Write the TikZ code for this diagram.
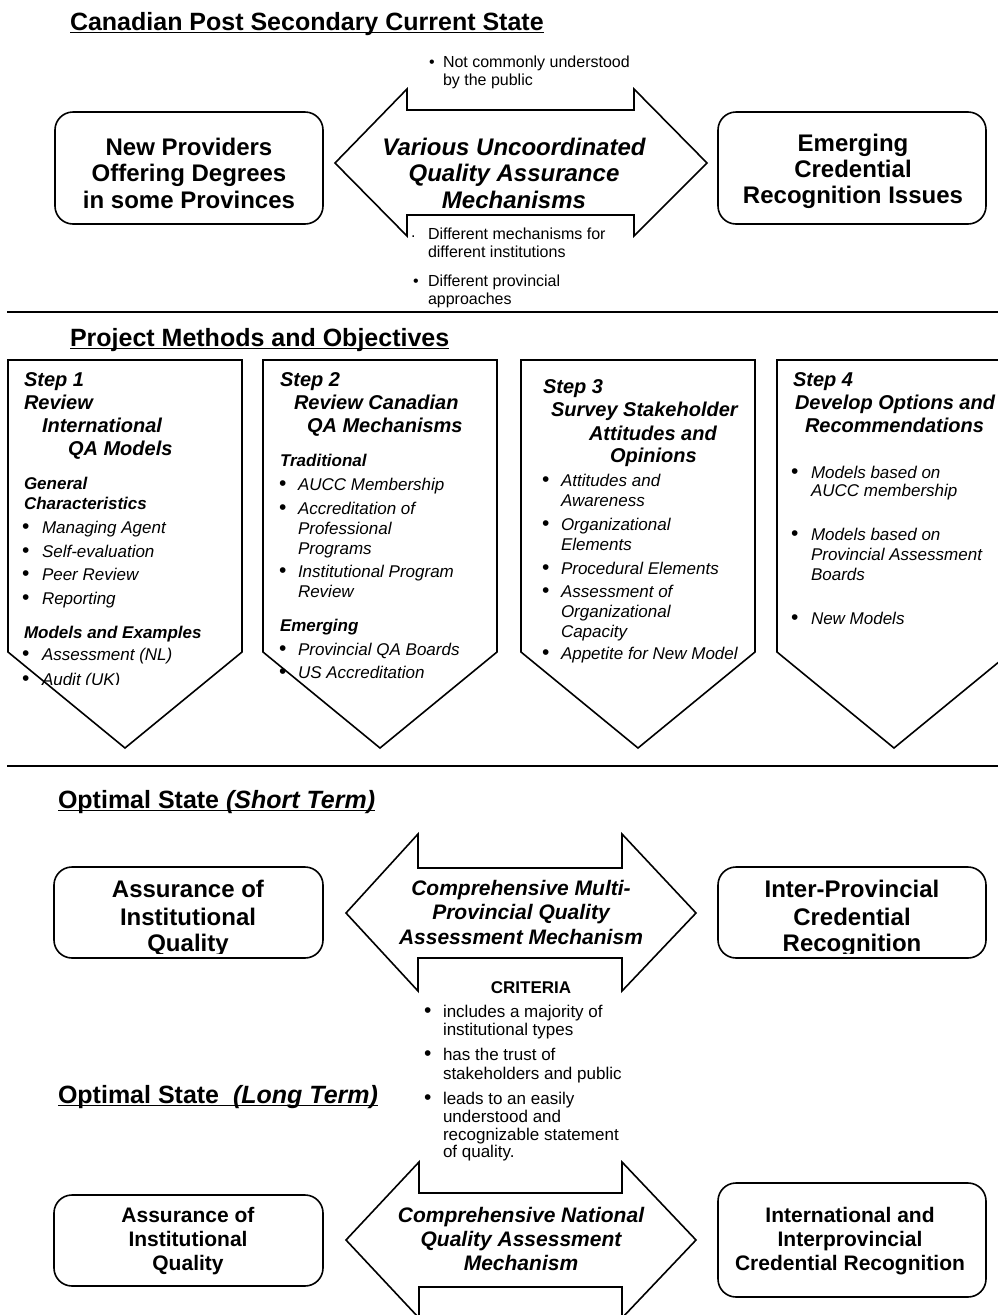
\documentclass[tikz,border=0pt]{standalone}
\usepackage{fontspec}
\setmainfont{Liberation Sans}
\begin{document}
\begin{tikzpicture}[x=1pt,y=-1pt,
  every node/.style={inner sep=0pt, outer sep=0pt},
  shp/.style={draw=black, line width=1.6pt, fill=white, line join=miter},
  sepline/.style={draw=black, line width=2.4pt},
  uline/.style={draw=black, line width=1.3pt},
  rbox/.style={draw=black, line width=1.6pt, rounded corners=18pt, fill=white},
  ttl/.style={anchor=base west, font=\fontsize{25}{30}\selectfont\bfseries},
  bt/.style={anchor=base, font=\fontsize{24}{27}\selectfont\bfseries},
  bti/.style={anchor=base, font=\fontsize{24}{27}\selectfont\bfseries\itshape},
  mt/.style={anchor=base, font=\fontsize{21}{24}\selectfont\bfseries},
  mti/.style={anchor=base, font=\fontsize{21}{24}\selectfont\bfseries\itshape},
  sh/.style={anchor=base west, font=\fontsize{20}{23}\selectfont\bfseries\itshape},
  ssh/.style={anchor=base west, font=\fontsize{17}{20}\selectfont\bfseries\itshape},
  it/.style={anchor=base west, font=\fontsize{17}{20}\selectfont\itshape},
  bul/.style={anchor=base west, font=\fontsize{21}{20}\selectfont},
  sm/.style={anchor=base west, font=\fontsize{16}{18}\selectfont},
  cr/.style={anchor=base west, font=\fontsize{17}{20}\selectfont},
  crb/.style={anchor=base, font=\fontsize{17}{20}\selectfont\bfseries}
]
\useasboundingbox (0,0) rectangle (998,1315);
\clip (0,0) rectangle (998,1315);

% ================= Section 1 =================
\node[ttl] (T1) at (70,30) {Canadian Post Secondary Current State};
\draw[uline] ([yshift=-2.5pt]T1.base west) -- ([yshift=-2.5pt]T1.base east);

\node[rbox, minimum width=268pt, minimum height=112pt] (B1L) at (189,168) {};
\node[bt] (B1La) at (189,155) {New Providers};
\node[bt] (B1Lb) at (189,181.5) {Offering Degrees};
\node[bt] (B1Lc) at (189,208) {in some Provinces};

\node[rbox, minimum width=268pt, minimum height=112pt] (B1R) at (852,168) {};
\node[bt] (B1Ra) at (853,151.5) {Emerging};
\node[bt] (B1Rb) at (853,177.5) {Credential};
\node[bt] (B1Rc) at (853,203.5) {Recognition Issues};

\draw[shp] (335,163) -- (407,89) -- (407,110) -- (634,110) -- (634,89) -- (707,163)
  -- (634,236) -- (634,215) -- (407,215) -- (407,236) -- cycle;
\node[bti] (A1a) at (514,155) {Various Uncoordinated};
\node[bti] (A1b) at (514,181) {Quality Assurance};
\node[bti] (A1c) at (514,208) {Mechanisms};

\node[sm] (P1) at (429,67.5) {\textbullet};
\node[sm] (P1a) at (443,67.5) {Not commonly understood};
\node[sm] (P1b) at (443,85) {by the public};
\node[sm] (P2) at (411,237) {.};
\node[sm] (P2a) at (428,239) {Different mechanisms for};
\node[sm] (P2b) at (428,257) {different institutions};
\node[sm] (P3) at (413,286) {\textbullet};
\node[sm] (P3a) at (428,286) {Different provincial};
\node[sm] (P3b) at (428,304) {approaches};

\coordinate (S1a) at (7,312);
\coordinate (S1b) at (998,312);
\draw[sepline] (S1a) -- (S1b);

% ================= Section 2 =================
\node[ttl] (T2) at (70,346) {Project Methods and Objectives};
\draw[uline] ([yshift=-2.5pt]T2.base west) -- ([yshift=-2.5pt]T2.base east);

\foreach \x in {8,263,521,777} {
  \draw[shp] (\x,360) -- ({\x+234},360) -- ({\x+234},652) -- ({\x+117},748) -- (\x,652) -- cycle;
}

% Step 1
\node[sh] (s1h1) at (24,386) {Step 1};
\node[sh] (s1h2) at (24,409) {Review};
\node[sh] (s1h3) at (42,432) {International};
\node[sh] (s1h4) at (68,455) {QA Models};
\node[ssh] (s1g1) at (24,489) {General};
\node[ssh] (s1g2) at (24,509) {Characteristics};
\node[bul] (s1b1) at (22,533) {\textbullet};
\node[it] (s1i1) at (42,533) {Managing Agent};
\node[bul] (s1b2) at (22,557) {\textbullet};
\node[it] (s1i2) at (42,557) {Self-evaluation};
\node[bul] (s1b3) at (22,580) {\textbullet};
\node[it] (s1i3) at (42,580) {Peer Review};
\node[bul] (s1b4) at (22,604) {\textbullet};
\node[it] (s1i4) at (42,604) {Reporting};
\node[ssh] (s1m) at (24,638) {Models and Examples};
\node[bul] (s1b5) at (22,660) {\textbullet};
\node[it] (s1i5) at (42,660) {Assessment (NL)};
\begin{scope}
  \clip (0,665) rectangle (260,684.5);
  \node[bul] (s1b6) at (22,685) {\textbullet};
  \node[it] (s1i6) at (42,685) {Audit (UK)};
\end{scope}

% Step 2
\node[sh] (s2h1) at (280,386) {Step 2};
\node[sh] (s2h2) at (294,409) {Review Canadian};
\node[sh] (s2h3) at (307,432) {QA Mechanisms};
\node[ssh] (s2t) at (280,466) {Traditional};
\node[bul] (s2b1) at (279,490) {\textbullet};
\node[it] (s2i1) at (298,490) {AUCC Membership};
\node[bul] (s2b2) at (279,514) {\textbullet};
\node[it] (s2i2a) at (298,514) {Accreditation of};
\node[it] (s2i2b) at (298,534) {Professional};
\node[it] (s2i2c) at (298,554) {Programs};
\node[bul] (s2b3) at (279,577) {\textbullet};
\node[it] (s2i3a) at (298,577) {Institutional Program};
\node[it] (s2i3b) at (298,597) {Review};
\node[ssh] (s2e) at (280,631) {Emerging};
\node[bul] (s2b4) at (279,655) {\textbullet};
\node[it] (s2i4) at (298,655) {Provincial QA Boards};
\node[bul] (s2b5) at (279,678) {\textbullet};
\node[it] (s2i5) at (298,678) {US Accreditation};

% Step 3
\node[sh] (s3h1) at (543,393) {Step 3};
\node[sh] (s3h2) at (551,416) {Survey Stakeholder};
\node[sh] (s3h3) at (589,440) {Attitudes and};
\node[sh] (s3h4) at (610,462) {Opinions};
\node[bul] (s3b1) at (542,486) {\textbullet};
\node[it] (s3i1a) at (561,486) {Attitudes and};
\node[it] (s3i1b) at (561,506) {Awareness};
\node[bul] (s3b2) at (542,530) {\textbullet};
\node[it] (s3i2a) at (561,530) {Organizational};
\node[it] (s3i2b) at (561,550) {Elements};
\node[bul] (s3b3) at (542,574) {\textbullet};
\node[it] (s3i3) at (561,574) {Procedural Elements};
\node[bul] (s3b4) at (542,597) {\textbullet};
\node[it] (s3i4a) at (561,597) {Assessment of};
\node[it] (s3i4b) at (561,617) {Organizational};
\node[it] (s3i4c) at (561,637) {Capacity};
\node[bul] (s3b5) at (542,659) {\textbullet};
\node[it] (s3i5) at (561,659) {Appetite for New Model};

% Step 4
\node[sh] (s4h1) at (793,386) {Step 4};
\node[sh] (s4h2) at (795,409) {Develop Options and};
\node[sh] (s4h3) at (805,432) {Recommendations};
\node[bul] (s4b1) at (791,478) {\textbullet};
\node[it] (s4i1a) at (811,478) {Models based on};
\node[it] (s4i1b) at (811,496) {AUCC membership};
\node[bul] (s4b2) at (791,540) {\textbullet};
\node[it] (s4i2a) at (811,540) {Models based on};
\node[it] (s4i2b) at (811,560) {Provincial Assessment};
\node[it] (s4i2c) at (811,580) {Boards};
\node[bul] (s4b3) at (791,624) {\textbullet};
\node[it] (s4i3) at (811,624) {New Models};

\coordinate (S2a) at (7,766);
\coordinate (S2b) at (998,766);
\draw[sepline] (S2a) -- (S2b);

% ================= Section 3 (short term) =================
\node[ttl] (T3) at (58,808) {Optimal State \textit{(Short Term)}};
\draw[uline] ([yshift=-2.5pt]T3.base west) -- ([yshift=-2.5pt]T3.base east);

\node[rbox, minimum width=269pt, minimum height=91pt] (B3L) at (188.5,912.5) {};
\node[rbox, minimum width=268pt, minimum height=91pt] (B3R) at (852,912.5) {};
\begin{scope}
  \clip (0,860) rectangle (998,953.5);
  \node[bt] (B3La) at (188,897.5) {Assurance of};
  \node[bt] (B3Lb) at (188,925.5) {Institutional};
  \node[bt] (B3Lc) at (188,951.5) {Quality};
  \node[bt] (B3Ra) at (852,897.5) {Inter-Provincial};
  \node[bt] (B3Rb) at (852,925.5) {Credential};
  \node[bt] (B3Rc) at (852,951.5) {Recognition};
\end{scope}

\draw[shp] (346,913) -- (418,834) -- (418,868) -- (622,868) -- (622,834) -- (696,913)
  -- (622,991) -- (622,958) -- (418,958) -- (418,991) -- cycle;
\node[mti] (A3a) at (521,895.5) {Comprehensive Multi-};
\node[mti] (A3b) at (521,919.5) {Provincial Quality};
\node[mti] (A3c) at (521,944.5) {Assessment Mechanism};

\node[crb] (CR) at (531,993) {CRITERIA};
\node[bul] (C1) at (424,1017) {\textbullet};
\node[cr] (C1a) at (443,1017) {includes a majority of};
\node[cr] (C1b) at (443,1035) {institutional types};
\node[bul] (C2) at (424,1060) {\textbullet};
\node[cr] (C2a) at (443,1060) {has the trust of};
\node[cr] (C2b) at (443,1079) {stakeholders and public};
\node[bul] (C3) at (424,1104) {\textbullet};
\node[cr] (C3a) at (443,1104) {leads to an easily};
\node[cr] (C3b) at (443,1122) {understood and};
\node[cr] (C3c) at (443,1140) {recognizable statement};
\node[cr] (C3d) at (443,1157) {of quality.};

% ================= Section 4 (long term) =================
\node[ttl] (T4) at (58,1103) {Optimal State\ \ \textit{(Long Term)}};
\draw[uline] ([yshift=-2.5pt]T4.base west) -- ([yshift=-2.5pt]T4.base east);

\node[rbox, minimum width=269pt, minimum height=91pt] (B4L) at (188.5,1240.5) {};
\node[mt] (B4La) at (188,1222.5) {Assurance of};
\node[mt] (B4Lb) at (188,1246.5) {Institutional};
\node[mt] (B4Lc) at (188,1270.5) {Quality};

\node[rbox, minimum width=268pt, minimum height=114pt] (B4R) at (852,1240) {};
\node[mt] (B4Ra) at (850,1222.5) {International and};
\node[mt] (B4Rb) at (850,1246.5) {Interprovincial};
\node[mt] (B4Rc) at (850,1270.5) {Credential Recognition};

\draw[shp] (346,1240) -- (419,1162) -- (419,1193) -- (622,1193) -- (622,1162) -- (696,1240)
  -- (622,1318) -- (622,1287) -- (419,1287) -- (419,1318) -- cycle;
\node[mti] (A4a) at (521,1222.5) {Comprehensive National};
\node[mti] (A4b) at (521,1246.5) {Quality Assessment};
\node[mti] (A4c) at (521,1270.5) {Mechanism};
\end{tikzpicture}
\end{document}
